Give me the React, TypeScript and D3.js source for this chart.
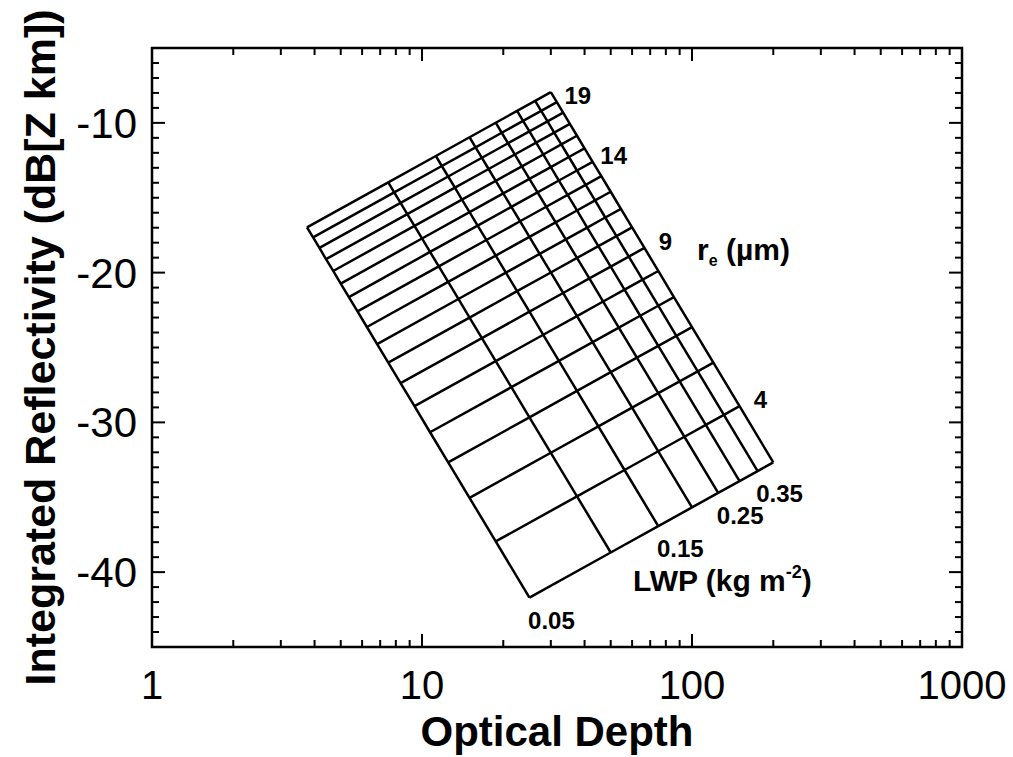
import React from 'react'
import * as d3 from 'd3'

// liquid water path of each grid line (kg m-2)
const lwpValues = [0.05, 0.1, 0.15, 0.2, 0.25, 0.3, 0.35, 0.4]
// effective radius of each grid line (um)
const reValues = [3, 4, 5, 6, 7, 8, 9, 10, 11, 12, 13, 14, 15, 16, 17, 18, 19, 20]

// optical depth at each node, one row per r_e, one column per LWP
const opticalDepth = [
  [25, 50, 75, 100, 125, 150, 175, 200],
  [18.75, 37.5, 56.25, 75, 93.75, 112.5, 131.25, 150],
  [15, 30, 45, 60, 75, 90, 105, 120],
  [12.5, 25, 37.5, 50, 62.5, 75, 87.5, 100],
  [10.71, 21.43, 32.14, 42.86, 53.57, 64.29, 75, 85.71],
  [9.38, 18.75, 28.13, 37.5, 46.88, 56.25, 65.63, 75],
  [8.33, 16.67, 25, 33.33, 41.67, 50, 58.33, 66.67],
  [7.5, 15, 22.5, 30, 37.5, 45, 52.5, 60],
  [6.82, 13.64, 20.45, 27.27, 34.09, 40.91, 47.73, 54.55],
  [6.25, 12.5, 18.75, 25, 31.25, 37.5, 43.75, 50],
  [5.77, 11.54, 17.31, 23.08, 28.85, 34.62, 40.38, 46.15],
  [5.36, 10.71, 16.07, 21.43, 26.79, 32.14, 37.5, 42.86],
  [5, 10, 15, 20, 25, 30, 35, 40],
  [4.69, 9.38, 14.06, 18.75, 23.44, 28.13, 32.81, 37.5],
  [4.41, 8.82, 13.24, 17.65, 22.06, 26.47, 30.88, 35.29],
  [4.17, 8.33, 12.5, 16.67, 20.83, 25, 29.17, 33.33],
  [3.95, 7.89, 11.84, 15.79, 19.74, 23.68, 27.63, 31.58],
  [3.75, 7.5, 11.25, 15, 18.75, 22.5, 26.25, 30],
]

// integrated reflectivity (dB[Z km]) at each node, same layout
const reflectivity = [
  [-41.7, -38.69, -36.93, -35.68, -34.71, -33.92, -33.25, -32.67],
  [-37.95, -34.94, -33.18, -31.93, -30.96, -30.17, -29.5, -28.92],
  [-35.04, -32.03, -30.27, -29.02, -28.05, -27.26, -26.59, -26.01],
  [-32.67, -29.66, -27.9, -26.65, -25.68, -24.89, -24.22, -23.64],
  [-30.66, -27.65, -25.89, -24.64, -23.67, -22.88, -22.21, -21.63],
  [-28.92, -25.91, -24.15, -22.9, -21.93, -21.14, -20.47, -19.89],
  [-27.38, -24.37, -22.61, -21.36, -20.39, -19.6, -18.93, -18.35],
  [-26.01, -23.0, -21.24, -19.99, -19.02, -18.23, -17.56, -16.98],
  [-24.77, -21.76, -20.0, -18.75, -17.78, -16.99, -16.32, -15.74],
  [-23.63, -20.62, -18.86, -17.61, -16.64, -15.85, -15.18, -14.6],
  [-22.59, -19.58, -17.82, -16.57, -15.6, -14.81, -14.14, -13.56],
  [-21.63, -18.62, -16.86, -15.61, -14.64, -13.85, -13.18, -12.6],
  [-20.73, -17.72, -15.96, -14.71, -13.74, -12.95, -12.28, -11.7],
  [-19.89, -16.88, -15.12, -13.87, -12.9, -12.11, -11.44, -10.86],
  [-19.1, -16.09, -14.33, -13.08, -12.11, -11.32, -10.65, -10.07],
  [-18.35, -15.34, -13.58, -12.33, -11.36, -10.57, -9.9, -9.32],
  [-17.65, -14.64, -12.88, -11.63, -10.66, -9.87, -9.2, -8.62],
  [-16.98, -13.97, -12.21, -10.96, -9.99, -9.2, -8.53, -7.95],
]

const lwpLabelled = ['0.05', '0.15', '0.25', '0.35']
const reLabelled = [19, 14, 9, 4]
const xTickLabels = ['1', '10', '100', '1000']
const yTickLabels = [-40, -30, -20, -10]

const W = 1013
const H = 757
const margin = { top: 48, right: 51, bottom: 110, left: 152 }
const font = '"Liberation Sans", Arial, Helvetica, sans-serif'

export default function App() {
  const x = d3.scaleLog().domain([1, 1000]).range([margin.left, W - margin.right])
  const y = d3.scaleLinear().domain([-45, -5]).range([H - margin.bottom, margin.top])
  const [x0, x1] = x.range()
  const [y0, y1] = y.range()

  const line = d3.line<[number, number]>()
    .x(d => x(d[0]))
    .y(d => y(d[1]))

  // constant r_e lines
  const reLines = reValues.map((_, i) =>
    lwpValues.map((_, j) => [opticalDepth[i][j], reflectivity[i][j]] as [number, number]))
  // constant LWP lines
  const lwpLines = lwpValues.map((_, j) =>
    reValues.map((_, i) => [opticalDepth[i][j], reflectivity[i][j]] as [number, number]))

  const xTicks = x.ticks()
  const yTicks = d3.range(-45, -4, 1)
  const major = 13
  const minor = 7

  const last = lwpValues.length - 1

  return (
    <svg width={W} height={H} style={{ position: 'absolute', left: 0, top: 0, background: '#fff' }}
      fontFamily={font}>
      <rect x={0} y={0} width={W} height={H} fill="#fff" />

      {/* grid */}
      <g fill="none" stroke="#000" strokeWidth={2.5} strokeLinejoin="round">
        {reLines.map((pts, i) => <path key={'r' + i} d={line(pts) || ''} />)}
        {lwpLines.map((pts, j) => <path key={'l' + j} d={line(pts) || ''} />)}
      </g>

      {/* frame and ticks */}
      <rect x={x0} y={y1} width={x1 - x0} height={y0 - y1} fill="none" stroke="#000" strokeWidth={2.5} />
      <g stroke="#000" strokeWidth={2}>
        {xTicks.map((t, i) => {
          const len = Math.abs(Math.log10(t) - Math.round(Math.log10(t))) < 1e-9 ? major : minor
          const px = x(t)
          return (
            <g key={'xt' + i}>
              <line x1={px} x2={px} y1={y0} y2={y0 - len} />
              <line x1={px} x2={px} y1={y1} y2={y1 + len} />
            </g>
          )
        })}
        {yTicks.map((t, i) => {
          const len = t % 10 === 0 ? major : minor
          const py = y(t)
          return (
            <g key={'yt' + i}>
              <line x1={x0} x2={x0 + len} y1={py} y2={py} />
              <line x1={x1} x2={x1 - len} y1={py} y2={py} />
            </g>
          )
        })}
      </g>

      {/* tick labels */}
      <g fontSize={40} fill="#000">
        {xTickLabels.map(l => (
          <text key={l} x={x(+l)} y={y0 + 52} textAnchor="middle">{l}</text>
        ))}
      </g>
      <g fontSize={42} fill="#000">
        {yTickLabels.map(v => (
          <text key={v} x={x0 - 15} y={y(v) + 15} textAnchor="end">{v}</text>
        ))}
      </g>

      {/* axis titles */}
      <text x={(x0 + x1) / 2} y={H - 11} textAnchor="middle" fontSize={42} fontWeight="bold">Optical Depth</text>
      <text transform={`translate(55,${(y0 + y1) / 2}) rotate(-90)`} textAnchor="middle" fontSize={43} fontWeight="bold">
        Integrated Reflectivity (dB[Z km])
      </text>

      {/* grid annotations */}
      <g fontSize={24} fontWeight="bold">
        {lwpValues.map((v, j) => {
          const lab = v.toFixed(2)
          if (!lwpLabelled.includes(lab)) return null
          return (
            <text key={lab} x={x(opticalDepth[0][j]) + 22} y={y(reflectivity[0][j]) + 31} textAnchor="middle">{lab}</text>
          )
        })}
        {reValues.map((r, i) => {
          if (!reLabelled.includes(r)) return null
          return (
            <text key={r} x={x(opticalDepth[i][last]) + 21} y={y(reflectivity[i][last]) + 2} textAnchor="middle">{r}</text>
          )
        })}
      </g>
      <g fontWeight="bold">
        <text x={697} y={260} fontSize={30}>r<tspan fontSize={16} dy={6}>e</tspan><tspan dy={-6}> (µm)</tspan></text>
        <text x={633} y={591} fontSize={30}>LWP (kg m<tspan fontSize={18} dy={-13}>-2</tspan><tspan dy={13}>)</tspan></text>
      </g>
    </svg>
  )
}
